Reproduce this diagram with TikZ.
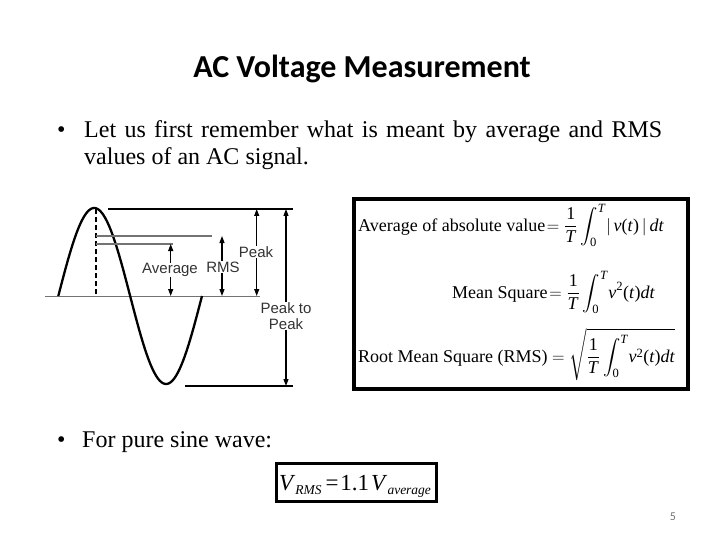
\documentclass[tikz,border=0pt]{standalone}
\usepackage{amsmath}
\usepackage{exscale}
\usepackage{fontspec}
\setmainfont{Liberation Serif}
\newfontfamily\sansf{Liberation Sans}
\newfontfamily\titlef{Carlito}
\usetikzlibrary{arrows.meta}
\newcommand\mi[1]{\text{\itshape #1\/}}
\newcommand\mr[1]{\text{#1}}
\newcommand\intT{\int_{\mr{0}}^{\mi{T}}\!}
\begin{document}
\begin{tikzpicture}[x=1pt,y=-1pt,
  wave/.style={line width=2.3pt,black},
  guide/.style={line width=1.2pt,black!55},
  limitline/.style={line width=1.1pt,black},
  dimarrow/.style={line width=1.1pt,black,{Triangle[length=7pt,width=5pt]}-{Triangle[length=7pt,width=5pt]}},
  dimlabel/.style={font=\sansf\fontsize{15}{17}\selectfont,text=black!80,fill=white,inner sep=0.5pt,align=center},
  bodytext/.style={font=\fontsize{24}{28}\selectfont,inner sep=0pt,anchor=base west},
  eqtext/.style={font=\fontsize{18}{22}\selectfont,inner sep=0pt,anchor=base west},
  thickbox/.style={draw=black,line width=4pt}]
\useasboundingbox[fill=white] (0,0) rectangle (720,540);

% title
\node[font=\titlef\bfseries\fontsize{32}{36}\selectfont,inner sep=0pt,anchor=base] (title) at (362,78) {AC Voltage Measurement};

% bullet 1
\node[bodytext] (b1) at (57,138) {\textbullet};
\node[bodytext] (l1) at (84,138) {\makebox[578pt][s]{Let us first remember what is meant by average and RMS}};
\node[bodytext] (l2) at (84,165) {values of an AC signal.};

% sine figure
\coordinate (axL) at (45,296);
\coordinate (axR) at (260,296);
\draw[guide,line width=1pt] (axL) -- (axR);
\draw[wave] plot[domain=0:360,samples=120,smooth] ({58.3+\x/360*143.7},{296-88*sin(\x)});
\coordinate (pk) at (96,209);
\coordinate (pkb) at (96,296);
\draw[line width=1.2pt,dash pattern=on 5pt off 3pt] (pk) -- (pkb);
\coordinate (topL) at (108,209);
\coordinate (topR) at (293,209);
\draw[limitline] (topL) -- (topR);
\coordinate (rmsL) at (96,236);
\coordinate (rmsR) at (212,236);
\draw[guide] (rmsL) -- (rmsR);
\coordinate (avgL) at (96,244);
\coordinate (avgR) at (173,244);
\draw[guide] (avgL) -- (avgR);
\coordinate (botL) at (185,386);
\coordinate (botR) at (293,386);
\draw[limitline] (botL) -- (botR);

\coordinate (aT) at (170.7,244);
\coordinate (aB) at (170.7,296);
\coordinate (rT) at (222,236);
\coordinate (rB) at (222,296);
\coordinate (pT) at (256.7,209);
\coordinate (pB) at (256.7,296);
\coordinate (ppT) at (286,209);
\coordinate (ppB) at (286,386);
\draw[dimarrow] (aT) -- (aB);
\draw[dimarrow] (rT) -- (rB);
\draw[dimarrow] (pT) -- (pB);
\draw[dimarrow] (ppT) -- (ppB);
\node[dimlabel] (avglab) at (170,270) {Average};
\node[dimlabel] (rmslab) at (223,267) {RMS};
\node[dimlabel] (pklab) at (256,252) {Peak};
\node[dimlabel,font=\sansf\fontsize{15}{16}\selectfont] (pplab) at (286,316) {Peak to\\Peak};

% formula box
\draw[thickbox] (354,199) rectangle (688,389);
\node[eqtext] (eq1) at (358,231) {Average of absolute value $\displaystyle\!=\frac{\mr{1}}{\mi{T}}\intT |\,\mi{v}\mr{(}\mi{t}\mr{)}\,|\,\mi{dt}$};
\node[eqtext] (eq2) at (452,298) {Mean Square $\displaystyle\!=\frac{\mr{1}}{\mi{T}}\intT \mi{v}^{\mr{2}}\mr{(}\mi{t}\mr{)}\mi{dt}$};
\node[eqtext] (eq3) at (358,362) {Root Mean Square (RMS) $\displaystyle =\sqrt{\frac{\mr{1}}{\mi{T}}\intT \mi{v}^{\mr{2}}\mr{(}\mi{t}\mr{)}\mi{dt}}$};

% bullet 2
\node[bodytext] (b2) at (57,447) {\textbullet};
\node[bodytext] (l3) at (82,447) {For pure sine wave:};

% final box
\draw[draw=black,line width=3pt] (276.5,463.5) rectangle (436.5,501.5);
\node[font=\fontsize{23}{28}\selectfont,inner sep=0pt,anchor=base] (vrms) at (355,490) {\itshape V\/\raisebox{-4pt}{\fontsize{13.5}{14}\selectfont RMS}\upshape\hspace{4pt}=\hspace{2pt}1.1\hspace{2pt}\itshape V\/\raisebox{-4pt}{\fontsize{13.5}{14}\selectfont average}};

% page number
\node[font=\titlef\fontsize{12}{14}\selectfont,text=black!55,inner sep=0pt,anchor=base] (pgnum) at (673,520) {5};
\end{tikzpicture}
\end{document}
